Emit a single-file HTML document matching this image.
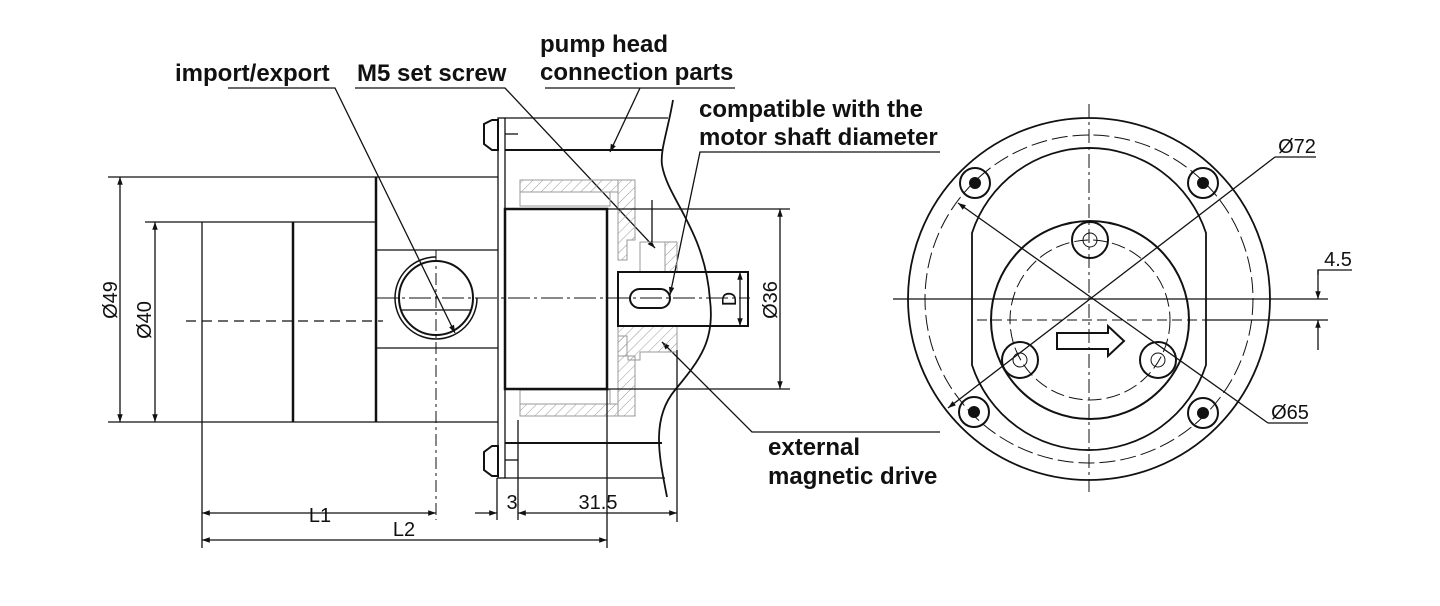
<!DOCTYPE html>
<html><head><meta charset="utf-8"><style>
html,body{margin:0;padding:0;background:#fff;}
svg{display:block;}
.lb{font-family:"Liberation Sans",sans-serif;font-size:24px;font-weight:bold;fill:#111;}
.dm{font-family:"Liberation Sans",sans-serif;font-size:20px;fill:#111;}
</style></head><body>
<svg width="1440" height="606" viewBox="0 0 1440 606" xmlns="http://www.w3.org/2000/svg">
<defs>
<marker id="a" viewBox="0 0 10 10" refX="10" refY="5" markerWidth="9" markerHeight="6" orient="auto-start-reverse"><path d="M0,1.5L10,5L0,8.5z" fill="#111"/></marker>
<pattern id="h" width="7" height="7" patternUnits="userSpaceOnUse" patternTransform="rotate(45)"><line x1="0" y1="0" x2="0" y2="7" stroke="#999" stroke-width="1"/></pattern>
</defs>
<g stroke="#111" fill="none" stroke-width="1.3">
<polyline points="228,88 335,88 455,333" marker-end="url(#a)"/>
<polyline points="355,88 505,88 655,248" marker-end="url(#a)"/>
<polyline points="545,88 735,88" />
<line x1="640" y1="88" x2="610" y2="152" marker-end="url(#a)"/>
<polyline points="940,152 700,152 670,295" marker-end="url(#a)"/>
<polyline points="940,432 752,432 662,342" marker-end="url(#a)"/>

<line x1="108" y1="177" x2="498" y2="177"/>
<line x1="108" y1="422" x2="498" y2="422"/>
<line x1="145" y1="222" x2="376" y2="222"/>
<line x1="120" y1="177" x2="120" y2="422" marker-start="url(#a)" marker-end="url(#a)"/>
<line x1="155" y1="222" x2="155" y2="422" marker-start="url(#a)" marker-end="url(#a)"/>
<line x1="202" y1="222" x2="202" y2="548"/>
<line x1="293" y1="222" x2="293" y2="422" stroke-width="2.5"/>
<line x1="376" y1="177" x2="376" y2="422" stroke-width="2.5"/>
<line x1="376" y1="250" x2="498" y2="250"/>
<line x1="376" y1="348" x2="498" y2="348"/>
<line x1="186" y1="321" x2="383" y2="321" stroke-dasharray="10,6"/>
<line x1="376" y1="298" x2="750" y2="298" stroke-dasharray="22,4,3,4" stroke-width="1"/>
<circle cx="436" cy="298" r="37" stroke-width="2"/>
<path d="M436,257 A41,41 0 1 0 477,298" stroke-width="1.5"/>
<line x1="400" y1="310" x2="472" y2="310"/>
<line x1="436" y1="250" x2="436" y2="520" stroke-dasharray="12,4,3,4" stroke-width="1"/>
<rect x="498" y="118" width="7" height="360"/>
<line x1="505" y1="118" x2="668" y2="118"/>
<line x1="505" y1="150" x2="662" y2="150" stroke-width="2"/>
<line x1="505" y1="443" x2="662" y2="443" stroke-width="2"/>
<line x1="505" y1="478" x2="665" y2="478"/>
<path d="M492,120 L484,124 L484,144 L492,150 L498,150 L498,120z" stroke-width="2"/>
<path d="M492,446 L484,452 L484,470 L492,476 L498,476 L498,446z" stroke-width="2"/>
<line x1="505" y1="134" x2="518" y2="134"/>
<line x1="505" y1="460" x2="518" y2="460"/>
<g stroke="#999" stroke-width="1">
<rect x="520" y="180" width="98" height="12" fill="url(#h)"/>
<rect x="520" y="192" width="90" height="14"/>
<path d="M618,180 L635,180 L635,240 L627,240 L627,260 L618,260z" fill="url(#h)"/>
<rect x="520" y="404" width="98" height="12" fill="url(#h)"/>
<rect x="520" y="390" width="90" height="14"/>
<path d="M618,416 L635,416 L635,356 L627,356 L627,336 L618,336z" fill="url(#h)"/>
<path d="M618,326 L677,326 L677,352 L640,352 L640,360 L628,360 L628,356 L618,356z" fill="url(#h)"/>
<rect x="640" y="242" width="37" height="30"/>
<rect x="665" y="242" width="12" height="30" fill="url(#h)"/>
</g>
<rect x="505" y="209" width="102" height="180" stroke-width="2.5"/>
<line x1="607" y1="209" x2="790" y2="209"/>
<line x1="607" y1="389" x2="790" y2="389"/>
<line x1="607" y1="389" x2="607" y2="548"/>
<rect x="618" y="272" width="130" height="54" stroke-width="2"/>
<rect x="630" y="289" width="40" height="19" rx="9.5" stroke-width="2"/>
<line x1="740" y1="272" x2="740" y2="326" marker-start="url(#a)" marker-end="url(#a)"/>
<line x1="780" y1="209" x2="780" y2="389" marker-start="url(#a)" marker-end="url(#a)"/>
<line x1="652" y1="200" x2="652" y2="242"/>
<path d="M673,100 C668,130 660,150 662,165 C668,200 705,230 710,300 C715,340 700,360 675,390 C650,420 660,460 667,497" stroke-width="1.8"/>
<line x1="497" y1="478" x2="497" y2="520"/>
<line x1="518" y1="420" x2="518" y2="520"/>
<line x1="677" y1="350" x2="677" y2="522"/>
<line x1="202" y1="513" x2="436" y2="513" marker-start="url(#a)" marker-end="url(#a)"/>
<line x1="202" y1="540" x2="607" y2="540" marker-start="url(#a)" marker-end="url(#a)"/>
<line x1="475" y1="513" x2="497" y2="513" marker-end="url(#a)"/>
<line x1="518" y1="513" x2="677" y2="513" marker-start="url(#a)" marker-end="url(#a)"/>

<circle cx="1089" cy="299" r="181" stroke-width="1.8"/>
<circle cx="1089" cy="299" r="164" stroke-dasharray="16,5" stroke-width="1"/>
<path d="M972,233 A123,123 0 0 1 1206,233 L1206,365 A123,123 0 0 1 972,365 Z" stroke-width="1.8"/>
<circle cx="1090" cy="320" r="99" stroke-width="2"/>
<circle cx="1090" cy="320" r="80" stroke-dasharray="14,5" stroke-width="1"/>
<line x1="1089" y1="104" x2="1089" y2="492" stroke-dasharray="14,4,3,4" stroke-width="1"/>
<line x1="893" y1="299" x2="1328" y2="299"/>
<line x1="977" y1="320" x2="1205" y2="320" stroke-dasharray="10,5" stroke-width="1"/>
<line x1="1205" y1="320" x2="1328" y2="320"/>
<g stroke-width="2">
<circle cx="975" cy="183" r="15"/><circle cx="1203" cy="183" r="15"/>
<circle cx="974" cy="412" r="15"/><circle cx="1203" cy="413" r="15"/>
<circle cx="1090" cy="240" r="18"/><circle cx="1020" cy="360" r="18"/><circle cx="1158" cy="360" r="18"/>
</g>
<g stroke-width="1">
<circle cx="1090" cy="240" r="7"/><circle cx="1020" cy="360" r="7"/><circle cx="1158" cy="360" r="7"/>
</g>
<g fill="#111" stroke="none">
<circle cx="975" cy="183" r="6"/><circle cx="1203" cy="183" r="6"/><circle cx="974" cy="412" r="6"/><circle cx="1203" cy="413" r="6"/>
</g>
<line x1="958" y1="203" x2="1268" y2="423" marker-start="url(#a)"/>
<polyline points="1268,423 1308,423"/>
<line x1="948" y1="408" x2="1275" y2="157" marker-start="url(#a)"/>
<polyline points="1275,157 1316,157"/>
<path d="M1057,333 L1108,333 L1108,326 L1124,341 L1108,356 L1108,349 L1057,349Z" stroke-width="2"/>
<line x1="1318" y1="270" x2="1318" y2="299" marker-end="url(#a)"/>
<line x1="1318" y1="350" x2="1318" y2="320" marker-end="url(#a)"/>
<polyline points="1318,275 1318,270 1352,270"/>
</g>
<text class="lb" x="175" y="81">import/export</text>
<text class="lb" x="357" y="81">M5 set screw</text>
<text class="lb" x="540" y="52">pump head</text>
<text class="lb" x="540" y="80">connection parts</text>
<text class="lb" x="699" y="117">compatible with the</text>
<text class="lb" x="699" y="145">motor shaft diameter</text>
<text class="lb" x="768" y="455">external</text>
<text class="lb" x="768" y="484">magnetic drive</text>
<text class="dm" transform="translate(117,300) rotate(-90)" text-anchor="middle">Ø49</text>
<text class="dm" transform="translate(151,320) rotate(-90)" text-anchor="middle">Ø40</text>
<text class="dm" transform="translate(777,300) rotate(-90)" text-anchor="middle">Ø36</text>
<text class="dm" transform="translate(736,299) rotate(-90)" text-anchor="middle">D</text>
<text class="dm" x="320" y="522" text-anchor="middle">L1</text>
<text class="dm" x="404" y="536" text-anchor="middle">L2</text>
<text class="dm" x="512" y="509" text-anchor="middle">3</text>
<text class="dm" x="598" y="509" text-anchor="middle">31.5</text>
<text class="dm" x="1297" y="153" text-anchor="middle">Ø72</text>
<text class="dm" x="1290" y="419" text-anchor="middle">Ø65</text>
<text class="dm" x="1338" y="266" text-anchor="middle">4.5</text>
</svg>
</body></html>
